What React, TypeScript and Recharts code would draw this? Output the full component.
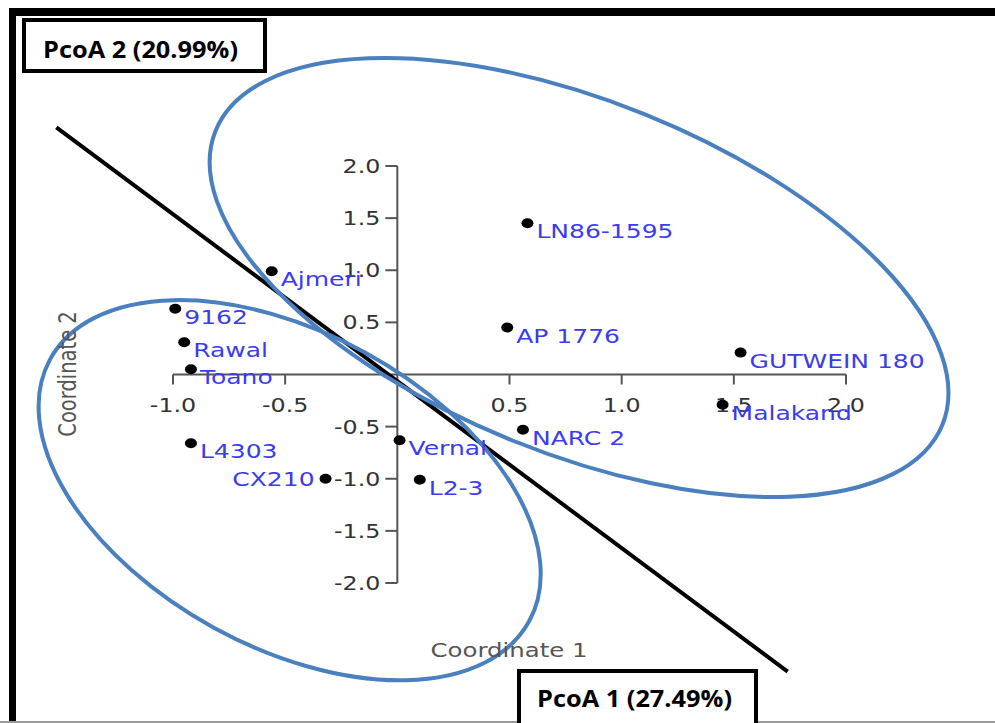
import { ScatterChart, Scatter, XAxis, YAxis, ReferenceLine, ReferenceDot } from 'recharts'

// PCoA scores per cultivar
const names = ['LN86-1595', 'Ajmeri', '9162', 'AP 1776', 'Rawal', 'Toano', 'GUTWEIN 180', 'Malakand', 'NARC 2', 'Vernal', 'L4303', 'CX210', 'L2-3']
const coord1 = [0.58, -0.56, -0.99, 0.49, -0.95, -0.92, 1.53, 1.45, 0.56, 0.01, -0.92, -0.32, 0.10]
const coord2 = [1.45, 0.99, 0.63, 0.45, 0.31, 0.05, 0.21, -0.29, -0.53, -0.63, -0.66, -1.0, -1.01]

const xTicks = [-1, -0.5, 0.5, 1, 1.5, 2]
const yTicks = [2, 1.5, 1, 0.5, -0.5, -1, -1.5, -2]

// group outlines (centres) and the dividing line, in data units
const upperGroup = { x: 0.81, y: 0.93 }
const lowerGroup = { x: -0.48, y: -1.11 }
const divider = [{ x: -1.52, y: 2.37 }, { x: 1.74, y: -2.85 }]

const data = names.map((name, i) => ({ name, x: coord1[i], y: coord2[i] }))

const STRETCH = 1.25
const FONT = 'DejaVu Sans, Verdana, sans-serif'
const AXIS = '#555'
const OUTLINE = '#4a7fc0'

function PointMark(props: any) {
  const { cx, cy, payload } = props
  const onLeft = payload.name === 'CX210'
  const tx = onLeft ? cx - 11 : cx + 9
  const ty = onLeft ? cy + 7 : cy + 15
  return (
    <g>
      <ellipse cx={cx} cy={cy} rx={6} ry={5} fill="#000" />
      <text
        transform={`translate(${tx},${ty}) scale(${STRETCH},1)`}
        textAnchor={onLeft ? 'end' : 'start'}
        fontSize={20}
        fontFamily={FONT}
        fill="#3b3bf2"
      >
        {payload.name}
      </text>
    </g>
  )
}

const xTick = (label: string) => (p: any) => (
  <g>
    <line x1={p.cx} y1={p.cy} x2={p.cx} y2={p.cy + 10} stroke={AXIS} strokeWidth={2} />
    <text
      transform={`translate(${p.cx},${p.cy + 37}) scale(${STRETCH},1)`}
      textAnchor="middle"
      fontSize={19}
      fontFamily={FONT}
      fill="#333"
    >
      {label}
    </text>
  </g>
)

const yTick = (label: string) => (p: any) => (
  <g>
    <line x1={p.cx - 12} y1={p.cy} x2={p.cx} y2={p.cy} stroke={AXIS} strokeWidth={2} />
    <text
      transform={`translate(${p.cx - 17},${p.cy + 7}) scale(${STRETCH},1)`}
      textAnchor="end"
      fontSize={19}
      fontFamily={FONT}
      fill="#333"
    >
      {label}
    </text>
  </g>
)

const outline = (rx: number, ry: number, angle: number) => (p: any) => (
  <ellipse
    cx={p.cx}
    cy={p.cy}
    rx={rx}
    ry={ry}
    transform={`rotate(${angle} ${p.cx} ${p.cy})`}
    fill="none"
    stroke={OUTLINE}
    strokeWidth={4}
  />
)

export default function App() {
  return (
    <div style={{ position: 'absolute', left: 0, top: 0, width: 995, height: 723, background: '#fff', overflow: 'hidden' }}>
      <div style={{ position: 'absolute', left: 0, top: 0 }}>
        <ScatterChart width={995} height={723} margin={{ top: 166, right: 149, bottom: 140, left: 173 }}>
          <XAxis type="number" dataKey="x" domain={[-1, 2]} hide />
          <YAxis type="number" dataKey="y" domain={[-2, 2]} hide />
          <ReferenceLine y={0} stroke={AXIS} strokeWidth={2} />
          <ReferenceLine x={0} stroke={AXIS} strokeWidth={2} />
          {xTicks.map(t => (
            <ReferenceDot key={'x' + t} x={t} y={0} r={0} ifOverflow="visible" shape={xTick(t.toFixed(1))} />
          ))}
          {yTicks.map(t => (
            <ReferenceDot key={'y' + t} x={0} y={t} r={0} ifOverflow="visible" shape={yTick(t.toFixed(1))} />
          ))}
          <ReferenceLine segment={divider} ifOverflow="visible" stroke="#000" strokeWidth={4} />
          <ReferenceDot x={upperGroup.x} y={upperGroup.y} r={0} ifOverflow="visible" shape={outline(392, 176, 22)} />
          <ReferenceDot x={lowerGroup.x} y={lowerGroup.y} r={0} ifOverflow="visible" shape={outline(273, 157, 28.7)} />
          <Scatter data={data} shape={PointMark} isAnimationActive={false} />
        </ScatterChart>
      </div>
      <svg width={995} height={723} style={{ position: 'absolute', left: 0, top: 0, pointerEvents: 'none' }}>
        <rect x={9} y={8} width={986} height={8} fill="#000" />
        <rect x={9} y={8} width={7} height={715} fill="#000" />
        <rect x={0} y={721} width={995} height={2} fill="#999" />
        <text transform={`translate(509,657) scale(1.22,1)`} textAnchor="middle" fontSize={20} fontFamily={FONT} fill={AXIS}>
          Coordinate 1
        </text>
        <text transform={`translate(76,374) rotate(-90) scale(1,1.25)`} textAnchor="middle" fontSize={19.5} fontFamily={FONT} fill={AXIS}>
          Coordinate 2
        </text>
        <rect x={24} y={20} width={241} height={51} fill="#fff" stroke="#000" strokeWidth={4} />
        <text x={43} y={58} fontFamily="Open Sans, sans-serif" fontWeight={700} fontSize={24} textLength={195} lengthAdjust="spacingAndGlyphs">
          PcoA 2 (20.99%)
        </text>
        <rect x={519} y={671} width={237} height={60} fill="#fff" stroke="#000" strokeWidth={4} />
        <text x={537} y={707} fontFamily="Open Sans, sans-serif" fontWeight={700} fontSize={24} textLength={195} lengthAdjust="spacingAndGlyphs">
          PcoA 1 (27.49%)
        </text>
      </svg>
    </div>
  )
}
